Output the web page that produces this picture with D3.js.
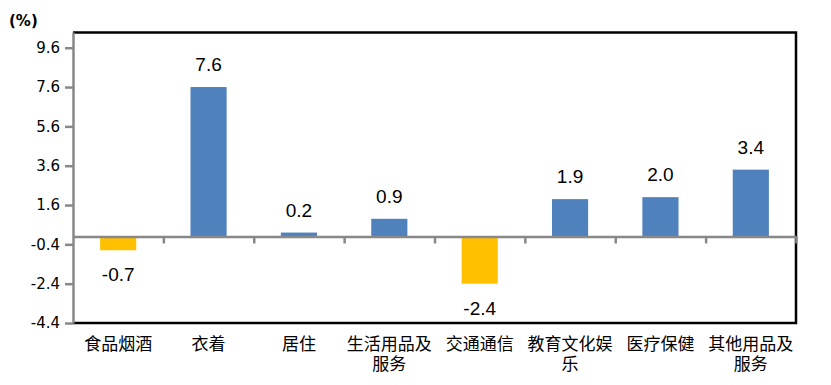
<!DOCTYPE html>
<html>
<head>
<meta charset="utf-8">
<script src="https://cdn.jsdelivr.net/npm/d3@7"></script>
<style>
  body { margin: 0; background: #fff; }
</style>
</head>
<body>
<div id="chart"></div>
<script>
// Data
const CATEGORIES = ["食品烟酒", "衣着", "居住", "生活用品及服务", "交通通信", "教育文化娱乐", "医疗保健", "其他用品及服务"];
const LABEL_LINES = [["食品烟酒"], ["衣着"], ["居住"], ["生活用品及", "服务"], ["交通通信"], ["教育文化娱", "乐"], ["医疗保健"], ["其他用品及", "服务"]];
const VALUES = [-0.7, 7.6, 0.2, 0.9, -2.4, 1.9, 2.0, 3.4];
const Y_TICKS = [9.6, 7.6, 5.6, 3.6, 1.6, -0.4, -2.4, -4.4];

// Constants
const FRAME_WIDTH = 831;
const FRAME_HEIGHT = 385;
const MARGINS = {left: 73, right: 35, top: 32, bottom: 62};
const VIS_WIDTH = FRAME_WIDTH - MARGINS.left - MARGINS.right;
const VIS_HEIGHT = FRAME_HEIGHT - MARGINS.top - MARGINS.bottom;

// plain hyphen for negatives, like the original
const fmt = (d) => d.toFixed(1);

const FRAME = d3.select("#chart")
                .append("svg")
                  .attr("width", FRAME_WIDTH)
                  .attr("height", FRAME_HEIGHT);

const X_SCALE = d3.scaleBand()
                  .domain(CATEGORIES)
                  .range([0, VIS_WIDTH])
                  .paddingInner(0.6)
                  .paddingOuter(0.3);

const X_BOUNDS = d3.scaleLinear()
                   .domain([0, CATEGORIES.length])
                   .range([0, VIS_WIDTH]);

const Y_SCALE = d3.scaleLinear()
                  .domain([-4.4, 10.4])
                  .range([VIS_HEIGHT, 0]);

const G = FRAME.append("g")
               .attr("transform", "translate(" + MARGINS.left + "," + MARGINS.top + ")");

// frame top / right / bottom (black)
G.append("path")
   .attr("d", "M0,0.5H" + VIS_WIDTH + "V" + VIS_HEIGHT + "H0")
   .attr("fill", "none")
   .attr("stroke", "#000")
   .attr("stroke-width", 2.5);

// bars
G.selectAll(".bar")
   .data(VALUES)
   .enter()
   .append("rect")
     .attr("x", (d, i) => X_SCALE(CATEGORIES[i]))
     .attr("width", X_SCALE.bandwidth())
     .attr("y", d => Y_SCALE(Math.max(0, d)))
     .attr("height", d => Math.abs(Y_SCALE(d) - Y_SCALE(0)))
     .attr("fill", d => d < 0 ? "#FFC000" : "#4F81BD");

// y axis
const yAxis = G.append("g")
   .call(d3.axisLeft(Y_SCALE).tickValues(Y_TICKS).tickFormat(fmt).tickSize(8).tickSizeOuter(0));
yAxis.select(".domain").attr("stroke", "#888").attr("stroke-width", 2.5);
yAxis.selectAll(".tick line").attr("stroke", "#888").attr("stroke-width", 2.5);
yAxis.selectAll(".tick text")
     .attr("x", -13)
     .attr("fill", "#000")
     .attr("font-family", "DejaVu Sans, Verdana, sans-serif")
     .attr("font-size", "15px");

// zero line with category ticks
const zeroAxis = G.append("g")
   .attr("transform", "translate(0," + Y_SCALE(0) + ")")
   .call(d3.axisBottom(X_BOUNDS).ticks(CATEGORIES.length).tickSize(7).tickSizeOuter(0).tickFormat(""));
zeroAxis.select(".domain").attr("stroke", "#888").attr("stroke-width", 2.5);
zeroAxis.selectAll(".tick line").attr("stroke", "#888").attr("stroke-width", 2.5);
zeroAxis.selectAll(".tick").filter(d => d === 0).remove();

// value labels
G.selectAll(".val")
   .data(VALUES)
   .enter()
   .append("text")
     .attr("x", (d, i) => X_SCALE(CATEGORIES[i]) + X_SCALE.bandwidth() / 2)
     .attr("y", d => d >= 0 ? Y_SCALE(d) - 16 : Y_SCALE(d) + 31)
     .attr("text-anchor", "middle")
     .attr("font-family", "Liberation Sans, Arial, sans-serif")
     .attr("font-size", "19px")
     .attr("fill", "#000")
     .text(fmt);

// category labels
const cat = G.selectAll(".cat")
   .data(LABEL_LINES)
   .enter()
   .append("text")
     .attr("x", (d, i) => X_SCALE(CATEGORIES[i]) + X_SCALE.bandwidth() / 2)
     .attr("y", VIS_HEIGHT + 27)
     .attr("text-anchor", "middle")
     .attr("font-family", "Noto Sans CJK SC, sans-serif")
     .attr("font-size", "17px")
     .attr("fill", "#000");
cat.selectAll("tspan")
   .data(d => d)
   .enter()
   .append("tspan")
     .attr("x", function() { return d3.select(this.parentNode).attr("x"); })
     .attr("dy", (d, i) => i === 0 ? 0 : 20)
     .text(d => d);

// unit
FRAME.append("text")
   .attr("x", 9)
   .attr("y", 26)
   .attr("font-family", "DejaVu Sans, Verdana, sans-serif")
   .attr("font-weight", "bold")
   .attr("font-size", "15px")
   .text("(%)");
</script>
</body>
</html>
